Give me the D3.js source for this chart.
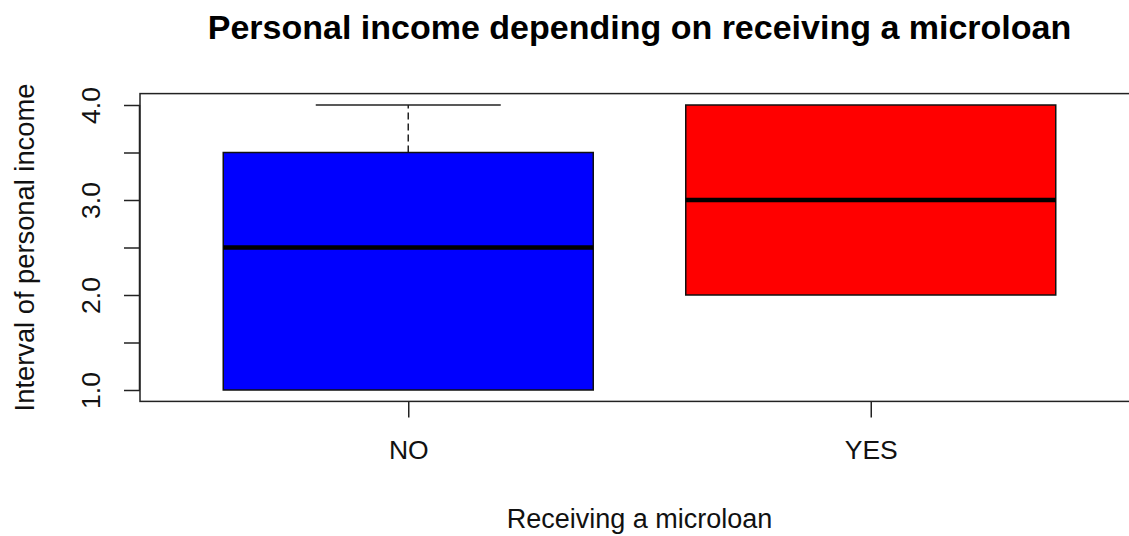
<!DOCTYPE html>
<html>
<head>
<meta charset="utf-8">
<script src="https://cdn.jsdelivr.net/npm/d3@7"></script>
<style>
  html, body { margin: 0; padding: 0; background: #fff; }
  svg { display: block; font-family: "Liberation Sans", Arial, sans-serif; }
</style>
</head>
<body>
<svg id="chart" width="1129" height="536"></svg>
<script>
// Box plot summary per group
const categories = ["NO", "YES"];
const boxFill = ["#0000ff", "#ff0000"];
const whiskerLow = [1.0, 2.0];
const q1 = [1.0, 2.0];
const median = [2.5, 3.0];
const q3 = [3.5, 4.0];
const whiskerHigh = [4.0, 4.0];

const yTicks = [1.0, 1.5, 2.0, 2.5, 3.0, 3.5, 4.0];
const yTickLabels = ["1.0", "", "2.0", "", "3.0", "", "4.0"];

const titleText = "Personal income depending on receiving a microloan";
const xTitle = "Receiving a microloan";
const yTitle = "Interval of personal income";

const svg = d3.select("#chart");
const plot = { left: 140, right: 1139, top: 93.6, bottom: 401.4 };

// Group positions 1..n, padded like R's default boxplot limits (+4%)
const x = d3.scaleLinear().domain([0.42, 2.58]).range([plot.left, plot.right]);
const y = d3.scaleLinear().domain([0.88, 4.12]).range([plot.bottom, plot.top]);

const boxHalf = 0.4;   // box width 0.8 in category units
const capHalf = 0.2;

const data = categories.map((c, i) => ({
  cat: c, pos: i + 1, fill: boxFill[i],
  lo: whiskerLow[i], q1: q1[i], med: median[i], q3: q3[i], hi: whiskerHigh[i]
}));

const g = svg.append("g");

// Whiskers (dashed stems + solid caps)
data.forEach(d => {
  if (d.hi > d.q3) {
    g.append("line").attr("x1", x(d.pos)).attr("x2", x(d.pos))
      .attr("y1", y(d.q3)).attr("y2", y(d.hi))
      .attr("stroke", "#222").attr("stroke-width", 1.5).attr("stroke-dasharray", "7,4");
    g.append("line").attr("x1", x(d.pos - capHalf)).attr("x2", x(d.pos + capHalf))
      .attr("y1", y(d.hi)).attr("y2", y(d.hi))
      .attr("stroke", "#222").attr("stroke-width", 1.5);
  }
  if (d.lo < d.q1) {
    g.append("line").attr("x1", x(d.pos)).attr("x2", x(d.pos))
      .attr("y1", y(d.q1)).attr("y2", y(d.lo))
      .attr("stroke", "#222").attr("stroke-width", 1.5).attr("stroke-dasharray", "7,4");
    g.append("line").attr("x1", x(d.pos - capHalf)).attr("x2", x(d.pos + capHalf))
      .attr("y1", y(d.lo)).attr("y2", y(d.lo))
      .attr("stroke", "#222").attr("stroke-width", 1.5);
  }
});

// Boxes
g.selectAll("rect.box").data(data).join("rect")
  .attr("class", "box")
  .attr("x", d => x(d.pos - boxHalf))
  .attr("width", d => x(d.pos + boxHalf) - x(d.pos - boxHalf))
  .attr("y", d => y(d.q3))
  .attr("height", d => y(d.q1) - y(d.q3))
  .attr("fill", d => d.fill)
  .attr("stroke", "#111")
  .attr("stroke-width", 1.5);

// Medians
g.selectAll("line.median").data(data).join("line")
  .attr("class", "median")
  .attr("x1", d => x(d.pos - boxHalf))
  .attr("x2", d => x(d.pos + boxHalf))
  .attr("y1", d => y(d.med))
  .attr("y2", d => y(d.med))
  .attr("stroke", "#000")
  .attr("stroke-width", 4.5);

// Plot frame
svg.append("rect")
  .attr("x", plot.left).attr("y", plot.top)
  .attr("width", plot.right - plot.left).attr("height", plot.bottom - plot.top)
  .attr("fill", "none").attr("stroke", "#222").attr("stroke-width", 1.5);

// Y axis (tick labels rotated, as in base R graphics)
const yAxis = d3.axisLeft(y).tickValues(yTicks).tickSize(16).tickFormat((d, i) => yTickLabels[i]);
const yg = svg.append("g").attr("transform", `translate(${plot.left},0)`).call(yAxis);
yg.select(".domain").attr("d", `M-0.5,${y(1)}V${y(4)}`).attr("stroke", "#222").attr("stroke-width", 1.5);
yg.selectAll(".tick line").attr("stroke", "#222").attr("stroke-width", 1.5);
yg.selectAll(".tick text")
  .attr("x", null).attr("dy", null)
  .attr("transform", "translate(-40,0) rotate(-90)")
  .attr("text-anchor", "middle")
  .attr("font-size", 26.5).attr("fill", "#111")
  .attr("font-family", "Liberation Sans, Arial, sans-serif");

// X axis
const xAxis = d3.axisBottom(x).tickValues(data.map(d => d.pos)).tickSize(16)
  .tickFormat((d, i) => categories[i]);
const xg = svg.append("g").attr("transform", `translate(0,${plot.bottom})`).call(xAxis);
xg.select(".domain").remove();
xg.selectAll(".tick line").attr("stroke", "#222").attr("stroke-width", 1.5);
xg.selectAll(".tick text")
  .attr("y", 58).attr("dy", null)
  .attr("font-size", 26.5).attr("fill", "#111")
  .attr("font-family", "Liberation Sans, Arial, sans-serif");

// Titles
const cx = (plot.left + plot.right) / 2;
svg.append("text").attr("x", cx).attr("y", 39)
  .attr("text-anchor", "middle").attr("font-weight", "bold")
  .attr("font-size", 34).attr("fill", "#000").text(titleText);

svg.append("text").attr("x", cx).attr("y", 528)
  .attr("text-anchor", "middle").attr("font-size", 27).attr("fill", "#111").text(xTitle);

svg.append("text")
  .attr("transform", `translate(33.5,${(plot.top + plot.bottom) / 2}) rotate(-90)`)
  .attr("text-anchor", "middle").attr("font-size", 27.3).attr("fill", "#111").text(yTitle);
</script>
</body>
</html>
